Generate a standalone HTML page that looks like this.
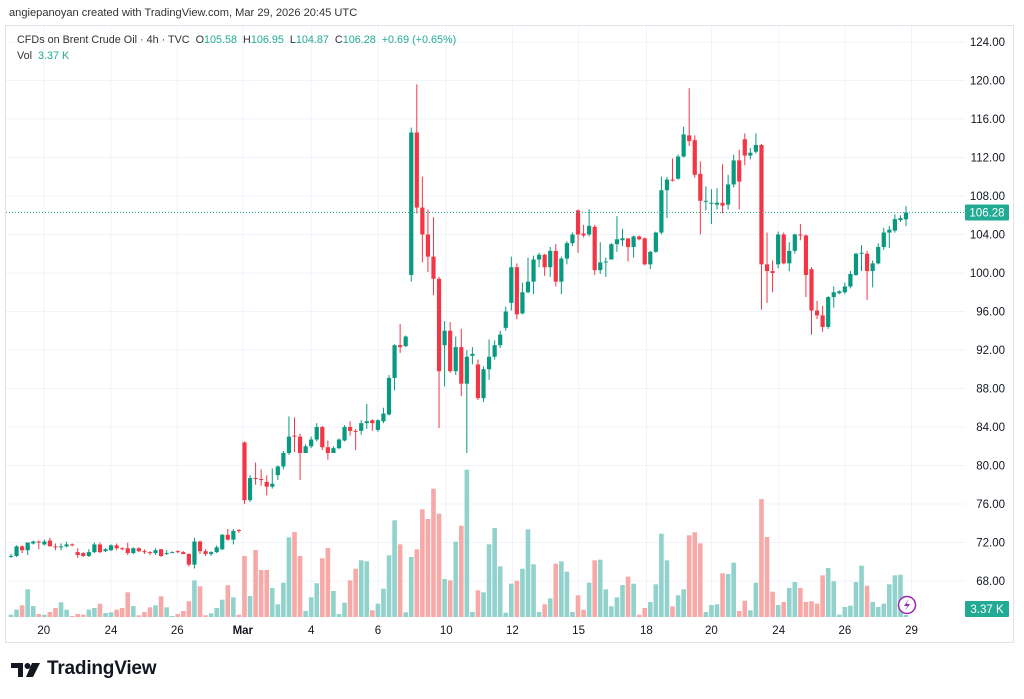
<!DOCTYPE html>
<html><head><meta charset="utf-8">
<style>
html,body{margin:0;padding:0;background:#fff;width:1024px;height:699px;overflow:hidden;font-family:"Liberation Sans",sans-serif;}
#wrap{position:relative;width:1024px;height:699px;}
.t{position:absolute;white-space:nowrap;}
</style></head>
<body>
<div id="wrap">
<div class="t" style="left:9px;top:7px;font-size:11.1px;color:#333;">angiepanoyan created with TradingView.com, Mar 29, 2026 20:45 UTC</div>
<svg id="chart" width="1024" height="699" style="position:absolute;left:0;top:0" xmlns="http://www.w3.org/2000/svg"></svg>
<div class="t" style="left:17px;top:34px;font-size:10.8px;color:#333;">CFDs on Brent Crude Oil · 4h · TVC&nbsp; O<span style="color:#22ab94">105.58</span>&nbsp; H<span style="color:#22ab94">106.95</span>&nbsp; L<span style="color:#22ab94">104.87</span>&nbsp; C<span style="color:#22ab94">106.28</span>&nbsp; <span style="color:#22ab94">+0.69 (+0.65%)</span></div>
<div class="t" style="left:17px;top:50px;font-size:10.8px;color:#333;">Vol&nbsp; <span style="color:#22ab94">3.37 K</span></div>
<div class="t" style="left:11px;top:658px;">
<svg width="30" height="16" style="position:absolute;left:0;top:5px"><path d="M0 0h12v14h-5v-9h-7z" fill="#131722"/><circle cx="16.5" cy="3" r="3" fill="#131722"/><path d="M21 0h8l-7 14h-7z" fill="#131722"/></svg>
<span style="position:absolute;left:36px;top:0;font-size:19px;font-weight:bold;color:#131722;letter-spacing:-0.2px">TradingView</span></div>
</div>
<script>
const opens=[70.5,70.6,71.6,71.2,71.9,72.1,71.8,72.2,71.6,71.5,71.6,71.8,71.0,70.9,70.6,71.0,71.8,71.1,71.2,71.7,71.4,71.4,70.9,71.4,71.1,71.0,70.9,71.3,70.8,70.9,71.1,71.0,70.8,69.7,72.1,71.1,70.8,71.0,71.3,72.8,72.3,73.3,82.4,
76.4,78.7,78.6,78.3,77.8,79.0,79.9,81.3,83.1,83.0,81.3,82.0,82.7,84.0,81.9,81.3,81.8,82.6,84.0,83.6,83.6,84.4,84.7,83.7,84.6,85.3,89.1,92.5,92.4,99.8,114.6,106.8,104.0,101.7,99.4,92.5,94.0,89.8,92.3,88.5,91.4,90.5,87.0,90.0,91.3,92.5,94.3,
96.9,100.6,95.8,98.0,99.1,101.4,101.9,100.6,102.3,99.1,101.5,103.1,106.5,104.1,104.0,104.8,100.3,101.1,101.4,103.0,103.4,103.6,102.7,103.8,103.6,100.9,102.2,104.2,108.6,109.7,109.8,112.1,114.3,113.8,110.3,107.4,107.2,107.1,107.3,107.1,
109.2,111.7,113.9,112.2,112.6,113.3,100.9,100.2,100.9,104.0,101.0,102.3,104.0,103.9,100.4,96.1,95.6,94.4,97.5,97.9,98.0,98.6,99.8,102.0,102.0,100.2,101.0,102.7,104.2,104.4,105.5,105.58];
const highs=[70.8,71.7,71.7,72.0,72.2,72.2,72.3,72.5,71.9,71.9,72.1,71.9,71.4,71.0,71.3,72.0,72.0,71.4,71.8,71.9,71.5,72.0,71.5,71.5,71.3,71.1,71.4,71.3,71.2,71.1,71.2,71.1,70.9,72.5,72.2,71.3,71.1,71.7,72.9,73.4,73.4,73.4,82.5,
79.0,80.3,79.6,79.0,79.7,80.0,81.5,85.1,85.0,83.3,82.2,83.0,84.4,84.1,82.6,82.0,82.8,84.2,84.6,83.8,84.7,86.4,84.8,84.8,86.0,89.4,92.6,94.7,93.5,115.1,119.6,110.0,106.6,105.8,99.6,95.0,94.9,93.4,94.2,92.0,92.3,91.0,90.3,93.1,93.0,94.0,96.5,
101.7,101.0,99.0,101.6,101.8,102.1,102.0,102.7,103.0,101.7,103.3,104.2,106.6,105.0,106.6,105.0,103.2,101.6,103.1,105.9,104.6,103.6,103.9,103.9,103.7,102.3,104.3,110.0,110.0,111.9,112.3,115.2,119.2,114.3,111.6,109.0,108.7,108.8,111.3,110.2,
112.3,112.8,114.5,113.0,114.5,113.4,104.2,101.3,104.3,104.2,103.2,104.1,105.1,104.0,100.6,97.1,96.6,97.6,98.6,98.2,99.0,100.2,102.1,102.9,102.3,101.3,103.1,104.7,104.9,106.1,106.0,106.95];
const lows=[70.4,70.5,70.9,70.7,71.8,71.3,71.7,71.6,71.2,71.2,71.5,71.6,70.4,70.5,70.5,70.9,70.9,71.0,71.1,71.2,71.2,70.7,70.8,71.0,70.8,70.7,70.7,70.5,70.7,70.9,70.9,70.8,69.5,69.3,70.8,70.6,70.6,70.9,71.2,72.2,71.8,73.0,76.0,
76.2,78.0,77.9,76.9,77.6,78.5,79.6,81.1,81.4,78.5,81.3,81.8,82.5,81.6,80.6,81.3,81.7,82.5,83.1,81.6,83.2,83.8,83.6,83.5,84.4,85.2,87.8,91.7,92.3,99.1,106.2,101.1,100.1,97.7,83.9,88.2,89.6,89.4,87.2,81.3,90.5,86.8,86.6,88.9,91.0,92.2,94.0,
96.1,95.2,95.7,97.9,97.8,100.6,99.7,99.6,98.6,97.8,100.9,102.8,102.1,103.7,103.8,99.8,99.9,99.6,101.4,102.2,102.8,101.2,101.6,103.4,100.8,100.4,102.1,104.0,105.7,109.5,109.7,112.0,113.2,109.9,104.0,106.5,105.1,106.6,106.2,106.6,
108.9,106.6,111.2,111.8,112.4,96.2,96.9,98.0,100.5,100.9,100.2,102.0,103.4,97.5,93.6,95.2,93.9,94.2,96.4,97.8,97.8,98.4,99.7,100.2,97.2,98.5,100.9,102.4,102.6,104.2,105.3,104.87];
const closes=[70.6,71.6,71.2,72.0,72.1,72.0,72.1,71.6,71.5,71.6,71.8,71.7,70.7,70.6,71.0,71.8,71.0,71.3,71.7,71.4,71.35,70.9,71.4,71.1,71.05,70.9,71.2,70.6,70.9,71.0,71.0,70.8,69.7,72.1,71.1,70.8,71.0,71.5,72.8,72.3,73.2,73.2,76.4,
78.7,78.6,78.5,77.8,78.1,79.9,81.3,83.0,83.0,81.3,82.0,82.7,84.0,81.9,81.3,81.8,82.7,84.0,83.6,83.5,84.4,84.6,84.4,84.7,85.4,89.1,92.5,92.3,93.4,114.6,106.8,104.0,101.7,99.4,89.8,94.0,89.8,92.3,88.5,91.3,91.6,87.0,90.0,91.3,92.5,93.6,96.0,
100.6,95.7,98.0,99.1,101.4,101.9,100.6,102.3,99.1,101.5,103.1,104.0,104.0,103.9,104.9,100.3,101.1,101.2,103.0,103.5,103.6,102.7,103.8,103.5,100.9,102.2,104.2,108.6,109.7,109.6,112.1,114.4,113.7,110.2,107.5,107.5,107.3,107.3,107.0,109.2,
111.7,109.5,112.2,112.5,113.3,100.9,100.2,100.0,104.0,101.0,102.3,104.0,103.9,99.8,96.1,95.6,94.4,97.5,98.0,98.1,98.6,99.9,102.0,102.1,100.2,101.0,102.7,104.2,104.5,105.6,105.7,106.28];
const volumes=[3.7,11.7,18.7,44.3,17.6,4.8,3.7,8.0,14.4,23.5,11.7,1.6,4.8,3.7,11.7,14.4,21.3,6.4,7.5,11.7,14.4,39.5,17.6,2.7,8.0,15.5,18.7,33.1,15.5,1.6,4.8,9.6,25.1,58.7,49.1,2.7,5.9,14.4,27.7,50.7,31.5,3.7,97.6,
33.6,107.2,75.2,75.2,46.4,20.3,54.9,127.5,136.0,97.6,9.6,31.5,53.9,93.9,110.4,41.6,4.8,22.9,58.7,77.3,90.7,89.1,10.7,21.3,45.3,98.7,154.7,116.3,7.5,96.0,108.3,172.3,156.8,205.3,165.3,60.8,58.7,120.5,146.1,235.7,8.0,42.7,
39.5,116.3,142.4,81.1,6.9,53.3,58.1,77.3,140.3,84.3,8.0,20.3,29.9,85.3,89.1,72.5,8.0,34.7,11.7,54.9,90.7,91.7,44.3,17.1,31.5,51.2,64.5,53.3,3.7,14.4,24.0,52.3,133.3,90.7,17.1,34.7,44.3,130.7,135.5,117.9,8.0,19.2,20.3,69.9,68.8,
86.9,9.6,26.1,10.7,54.9,188.8,128.0,40.5,19.2,24.0,46.4,56.0,46.4,24.0,25.1,21.3,66.7,78.4,57.1,3.7,16.0,18.1,56.0,82.1,50.1,24.0,16.0,21.3,52.3,66.7,67.7,3.2];
const priceTicks=[124,120,116,112,108,104,100,96,92,88,84,80,76,72,68];
const dateLabels=["20","24","26","Mar","4","6","10","12","15","18","20","24","26","29"];
const dateIdx=[5.9,18,29.9,41.7,54,66,78.3,90.2,102.1,114.3,126,138.1,150,162];

const NS="http://www.w3.org/2000/svg";
const svg=document.getElementById('chart');
const X0=11, STEP=5.559, PLOT_R=965, PLOT_T=25, PLOT_B=620;
const xOf=i=>X0+i*STEP;
const yOf=p=>42+(124-p)*9.625;
const VOL_BASE=617, VOL_K=1/1.6;
const yVol=v=>VOL_BASE-v*VOL_K;
function mk(tag,attrs){const e=document.createElementNS(NS,tag);for(const k in attrs)e.setAttribute(k,attrs[k]);svg.appendChild(e);return e;}

let fr=mk('rect',{x:5.5,y:25.5,width:1008,height:617,fill:'none',stroke:'#e0e3eb'});


priceTicks.forEach(p=>{
  const y=yOf(p);
  const g=mk('line',{x1:6,x2:PLOT_R,y1:y,y2:y,stroke:'#f0f3fa','stroke-width':1});
  
  
  const t=mk('text',{x:1005,y:y+4,'text-anchor':'end','font-size':11.5,fill:'#131722','font-family':'Liberation Sans, sans-serif'});
  t.textContent=p.toFixed(2);
  
  
});
dateLabels.forEach((d,k)=>{
  const x=xOf(dateIdx[k]);
  const g=mk('line',{x1:x,x2:x,y1:26,y2:PLOT_B,stroke:'#f0f3fa','stroke-width':1});
  
  
  const t=mk('text',{x:x,y:634,'text-anchor':'middle','font-size':11.5,fill:'#131722','font-family':'Liberation Sans, sans-serif','font-weight':d==='Mar'?'bold':'normal'});
  t.textContent=d;
  
  
});
volumes.forEach((v,i)=>{
  const up=closes[i]>=opens[i];
  const y=yVol(v);
  const r=mk('rect',{x:xOf(i)-2.3,y:y,width:4.6,height:VOL_BASE-y,fill:up?'#92d2cc':'#f7a9a7'});
  
  
});
opens.forEach((o,i)=>{
  const c=closes[i],h=highs[i],l=lows[i];
  const up=c>=o, col=up?'#089981':'#f23645';
  const x=xOf(i);
  const w=mk('line',{x1:x,x2:x,y1:yOf(h),y2:yOf(l),stroke:col,'stroke-width':1});
  
  
  const yt=yOf(Math.max(o,c)), yb=yOf(Math.min(o,c));
  const b=mk('rect',{x:x-2.1,y:yt,width:4.2,height:Math.max(1,yb-yt),fill:col});
  
  
});
const last=closes[closes.length-1];
const ly=yOf(last);
let pl=mk('line',{x1:6,x2:PLOT_R,y1:ly,y2:ly,stroke:'#22ab94','stroke-width':1,'stroke-dasharray':'1 2'});


let pb=mk('rect',{x:965,y:ly-8,width:44,height:16,fill:'#22ab94',rx:1});


let pt=mk('text',{x:987,y:ly+4,'text-anchor':'middle','font-size':11.5,fill:'#fff','font-family':'Liberation Sans, sans-serif'});
pt.textContent=last.toFixed(2);


let vb=mk('rect',{x:965,y:601,width:44,height:16,fill:'#22ab94',rx:1});


let vt=mk('text',{x:987,y:613,'text-anchor':'middle','font-size':11.5,fill:'#fff','font-family':'Liberation Sans, sans-serif'});
vt.textContent='3.37 K';


let lc=mk('circle',{cx:907,cy:605,r:8.5,fill:'#fff',stroke:'#9c27b0','stroke-width':1.5});


let lp=mk('path',{d:'M909 599 L904 606 L907.5 606 L905 611 L910 604 L906.5 604 Z',fill:'#9c27b0'});


</script>
</body></html>
